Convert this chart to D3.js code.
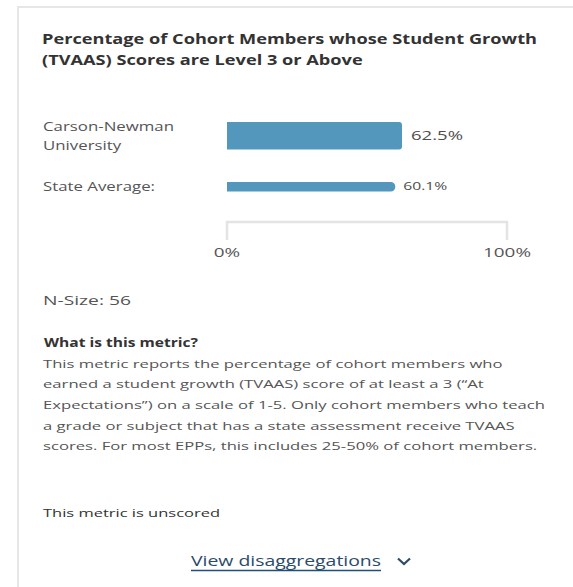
<!DOCTYPE html>
<html><head><meta charset="utf-8">
<script src="https://cdn.jsdelivr.net/npm/d3@7"></script>
<style>
html,body{margin:0;padding:0;background:#fff;}
svg{display:block;}
text{font-family:"Open Sans","Noto Sans",sans-serif;}
</style></head>
<body>
<script>
const titleLines = ["Percentage of Cohort Members whose Student Growth", "(TVAAS) Scores are Level 3 or Above"];
const categories = [["Carson-Newman", "University"], ["State Average:"]];
const values = [62.5, 60.1];
const valueLabels = ["62.5%", "60.1%"];
const axisTicks = [0, 100];
const axisTickLabels = ["0%", "100%"];
const nSizeText = "N-Size: 56";
const metricHeading = "What is this metric?";
const metricLines = [
  "This metric reports the percentage of cohort members who",
  "earned a student growth (TVAAS) score of at least a 3 (\u201CAt",
  "Expectations\u201D) on a scale of 1-5. Only cohort members who teach",
  "a grade or subject that has a state assessment receive TVAAS",
  "scores. For most EPPs, this includes 25-50% of cohort members."
];
const unscoredText = "This metric is unscored";
const linkText = "View disaggregations";

const W = 573, H = 587;
const svg = d3.select("body").append("svg").attr("width", W).attr("height", H);

// card
svg.append("rect").attr("x", 18).attr("y", 7).attr("width", 620).attr("height", 640)
  .attr("fill", "#fff").attr("stroke", "#e6e6e6").attr("stroke-width", 2);

// horizontal stretch so glyph widths follow the reference's wide face
function stretchGroup(nodes, refIdx, target) {
  const ws = nodes.map(n => n.getComputedTextLength());
  const s = target / ws[refIdx];
  nodes.forEach((n, i) => {
    d3.select(n).attr("textLength", (ws[i] * s).toFixed(1)).attr("lengthAdjust", "spacingAndGlyphs");
  });
}

// title
const tl = svg.selectAll("text.title").data(titleLines).join("text")
  .attr("class", "title").attr("x", 42).attr("y", (d, i) => 43.5 + i * 21.5)
  .attr("font-size", 15).attr("font-weight", 700).attr("fill", "#333").text(d => d);
stretchGroup(tl.nodes(), 0, 495);

// scales
const x = d3.scaleLinear().domain([0, 100]).range([227, 507]);
const rows = [{y: 122, h: 27.5, rx: 3, lab: 130.5, val: 140, vfs: 13.5, vgap: 9, vw: 52},
              {y: 182, h: 9.5, rx: 4.5, lab: 191, val: 190, vfs: 11.5, vgap: 8, vw: 44}];
const color = "#5397bc";

const g = svg.append("g");
const catTexts = [];
values.forEach((v, i) => {
  const r = rows[i];
  const rx = r.rx;
  const x0 = x(0), x1 = x(v), y0 = r.y, y1 = r.y + r.h;
  const p = d3.path();
  p.moveTo(x0, y0); p.lineTo(x1 - rx, y0);
  p.arcTo(x1, y0, x1, y0 + rx, rx);
  p.lineTo(x1, y1 - rx);
  p.arcTo(x1, y1, x1 - rx, y1, rx);
  p.lineTo(x0, y1); p.closePath();
  g.append("path").attr("d", p.toString()).attr("fill", color);
  const vt = g.append("text").attr("x", x1 + r.vgap).attr("y", r.val)
    .attr("font-size", r.vfs).attr("fill", "#4d4d4d").text(valueLabels[i]);
  stretchGroup([vt.node()], 0, r.vw);
  categories[i].forEach((ln, j) => {
    const t = g.append("text").attr("x", 43).attr("y", r.lab + j * 19)
      .attr("font-size", 12.5).attr("fill", "#555").text(ln);
    catTexts.push(t.node());
  });
});
stretchGroup(catTexts, 0, 131);

// axis bracket
const axisG = svg.append("g");
axisG.append("path")
  .attr("d", `M${x(0)},240V222H${x(100)}V240`)
  .attr("fill", "none").attr("stroke", "#e4e4e4").attr("stroke-width", 2.5);
const axTexts = [];
axisTicks.forEach((t, i) => {
  const tt = axisG.append("text").attr("x", x(t)).attr("y", 257).attr("text-anchor", "middle")
    .attr("font-size", 13.5).attr("fill", "#555").text(axisTickLabels[i]);
  axTexts.push(tt.node());
});
stretchGroup(axTexts, 1, 48);

// N-size
const ns = svg.append("text").attr("x", 43).attr("y", 304.5).attr("font-size", 13).attr("fill", "#555").text(nSizeText);
stretchGroup([ns.node()], 0, 88);

const mh = svg.append("text").attr("x", 44).attr("y", 347).attr("font-size", 11.5).attr("font-weight", 700)
  .attr("fill", "#333").text(metricHeading);
stretchGroup([mh.node()], 0, 154);
const ml = svg.selectAll("text.ml").data(metricLines).join("text").attr("class", "ml")
  .attr("x", 43).attr("y", (d, i) => 367.5 + i * 20.7).attr("font-size", 11.5).attr("fill", "#555").text(d => d);
stretchGroup(ml.nodes(), 2, 502);

const un = svg.append("text").attr("x", 43).attr("y", 517).attr("font-size", 11.5).attr("fill", "#333").text(unscoredText);
stretchGroup([un.node()], 0, 177);

const link = svg.append("text").attr("x", 191).attr("y", 566).attr("font-size", 14)
  .attr("fill", "#2a4b6b").text(linkText);
stretchGroup([link.node()], 0, 190);
svg.append("line").attr("x1", 191).attr("x2", 381).attr("y1", 570.5).attr("y2", 570.5)
  .attr("stroke", "#1f4f7a").attr("stroke-width", 1.5);
svg.append("path").attr("d", "M398,558.5L404,564L410,558.5").attr("fill", "none")
  .attr("stroke", "#2a4b6b").attr("stroke-width", 2.2);
</script>
</body></html>
